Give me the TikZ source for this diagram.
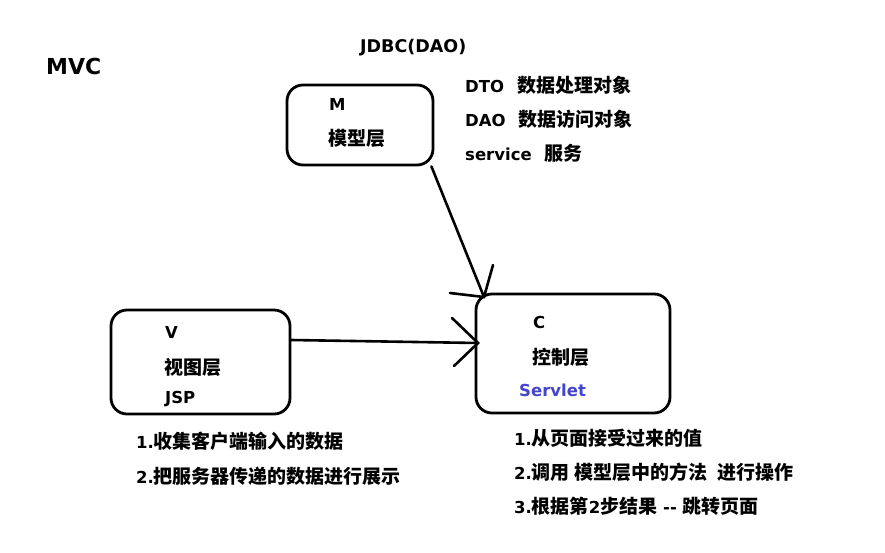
\documentclass[tikz,border=0pt]{standalone}
\usepackage{fontspec}
\setmainfont{DejaVu Sans}
\newfontfamily\cjk{Noto Sans CJK SC}
\newcommand{\Z}[1]{{\cjk\bfseries\fontsize{19}{22}\selectfont #1}}
\begin{document}
\begin{tikzpicture}[x=1pt,y=-1pt,
  box/.style={draw,line width=2.8pt,rounded corners=16pt},
  lbl/.style={anchor=base west,inner sep=0pt,font=\bfseries\fontsize{16.5}{20}\selectfont},
  wire/.style={line width=2.6pt,line cap=round}]
\useasboundingbox[fill=white] (0,0) rectangle (885,552);
\node[box,minimum width=146pt,minimum height=80pt] (M) at (360,125) {};
\node[box,minimum width=179pt,minimum height=104pt] (V) at (200.5,362) {};
\node[box,minimum width=194pt,minimum height=119pt] (C) at (573,353.5) {};
\node[lbl,font=\bfseries\fontsize{22}{26}\selectfont] (mvc) at (46,74) {MVC};
\node[lbl,font=\bfseries\fontsize{17.5}{20}\selectfont] (jdbc) at (360,52) {JDBC(DAO)};
\node[lbl] (dto) at (465,92) {DTO\hspace{13pt}\Z{数据处理对象}};
\node[lbl] (dao) at (465,126) {DAO\hspace{13pt}\Z{数据访问对象}};
\node[lbl] (svc) at (465,160) {service\hspace{13pt}\Z{服务}};
\node[lbl] (mt) at (329,110) {M};
\node[lbl] (mz) at (328,145) {\Z{模型层}};
\node[lbl] (vt) at (165,338) {V};
\node[lbl] (vz) at (164,374) {\Z{视图层}};
\node[lbl] (vj) at (165,403) {JSP};
\node[lbl] (ct) at (533,328) {C};
\node[lbl] (cz) at (532,364) {\Z{控制层}};
\node[lbl,text={rgb,255:red,68;green,68;blue,204}] (cs) at (519,396) {Servlet};
\node[lbl] (l1) at (136,448) {1.\Z{收集客户端输入的数据}};
\node[lbl] (l2) at (136,483) {2.\Z{把服务器传递的数据进行展示}};
\node[lbl] (r1) at (514,445) {1.\Z{从页面接受过来的值}};
\node[lbl] (r2) at (514,479) {2.\Z{调用 模型层中的方法\hspace{10pt}进行操作}};
\node[lbl] (r3) at (514,513) {3.\Z{根据第}2\Z{步结果} {-}{-} \Z{跳转页面}};
\coordinate (mc) at (484,297);
\coordinate (vc) at (478,343);
\coordinate (h1) at (450,293);
\coordinate (h2) at (493,265);
\coordinate (h3) at (452,318);
\coordinate (h4) at (454,366);
\draw[wire] (M.south east) ++(-3,0) -- (mc);
\draw[wire] (h1) -- (mc) -- (h2);
\draw[wire] (V.east |- 0,340) -- (vc);
\draw[wire] (h3) -- (vc) -- (h4);
\end{tikzpicture}
\end{document}
